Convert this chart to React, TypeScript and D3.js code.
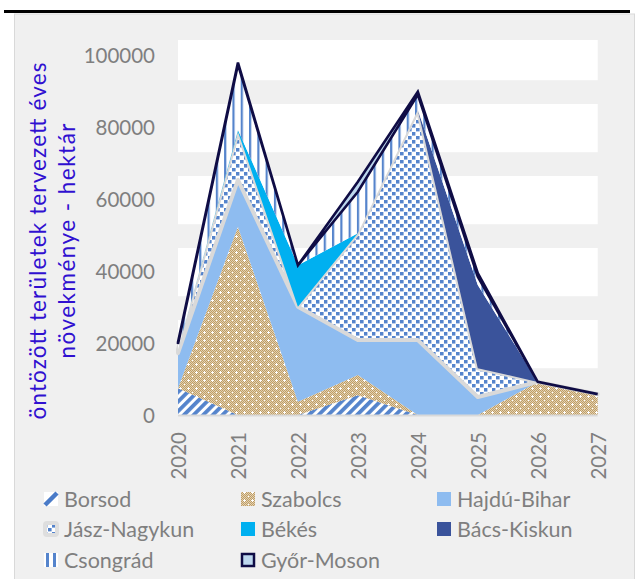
import React from 'react';
import * as d3 from 'd3';

const years = ['2020', '2021', '2022', '2023', '2024', '2025', '2026', '2027'];
const seriesNames = ['Borsod', 'Szabolcs', 'Hajdú-Bihar', 'Jász-Nagykun', 'Békés', 'Bács-Kiskun', 'Csongrád', 'Győr-Moson'];

const borsod = [7400, 0, 0, 5500, 0, 0, 0, 0];
const szabolcs = [0, 52300, 3700, 5600, 0, 0, 9200, 5800];
const hajduBihar = [9800, 13000, 26400, 9700, 20800, 5000, 0, 0];
const jaszNagykun = [1000, 13400, 0, 29700, 63900, 8000, 0, 0];
const bekes = [0, 500, 11500, 0, 0, 0, 0, 0];
const bacsKiskun = [0, 0, 0, 0, 0, 23100, 0, 0];
const csongrad = [1500, 18200, 0, 11500, 4300, 2300, 0, 0];
const gyorMoson = [500, 500, 0, 2800, 800, 1000, 0, 0];

const yTicks = [0, 20000, 40000, 60000, 80000, 100000];
const yTitleLines = ['öntözött területek tervezett éves', 'növekménye - hektár'];

const FONT = 'Lato, "Open Sans", sans-serif';
const BLUE_PAT = '#5584cc';

export default function App() {
  const x = d3.scalePoint<string>().domain(years).range([178, 597.7]);
  const y = d3.scaleLinear().domain([0, 100000]).range([415, 55]);
  const plotTop = 40;
  const plotBottom = 415;
  const topValue = y.invert(plotTop);

  const valuesList = [borsod, szabolcs, hajduBihar, jaszNagykun, bekes, bacsKiskun, csongrad, gyorMoson];
  const table = years.map((yr, i) => {
    const o: any = { year: yr };
    seriesNames.forEach((n, j) => (o[n] = valuesList[j][i]));
    return o;
  });
  const stacked = d3.stack<any>().keys(seriesNames)(table);
  const area = d3
    .area<any>()
    .x((d) => x(d.data.year) as number)
    .y0((d) => y(d[0]))
    .y1((d) => y(d[1]));

  const fills = [
    'url(#pBorsod)',
    'url(#pSzab)',
    '#8ebcf0',
    'url(#pJasz)',
    '#00b0f0',
    '#3a539b',
    'url(#pCsong)',
    '#bdd7ee',
  ];
  const strokes: (string | null)[] = [null, null, null, '#d9d9d9', null, null, null, '#0f0c45'];
  const strokeWidths = [0, 0, 0, 4, 0, 0, 0, 2.6];

  const bands: [number, number][] = [];
  for (let k = 0; k < 5; k++) {
    const lo = 13000 + 20000 * k;
    const hi = Math.min(lo + 13400, topValue);
    bands.push([lo, hi]);
  }

  const chk: [number, number][] = [];
  for (let i = 0; i < 8; i++) for (let j = 0; j < 8; j++) if ((i + j) % 2 === 0) chk.push([i, j]);

  const legendCols = [44, 241, 437];
  const legendRows = [499, 529, 560];
  const titleLengths = [357, 235];

  const marker = (idx: number, mx: number, my: number) => {
    const s = 14;
    const x0 = mx;
    const y0 = my - s / 2;
    switch (idx) {
      case 0:
        return (
          <g>
            <rect x={x0} y={y0} width={s} height={s} fill="#fff" />
            <line x1={x0 + 1} y1={y0 + s - 1} x2={x0 + s - 1} y2={y0 + 1} stroke="#4a7bc8" strokeWidth={4.5} />
          </g>
        );
      case 3:
        return <rect x={x0 + 1} y={y0 + 1} width={s - 2} height={s - 2} rx={2} fill="url(#pJasz)" stroke="#dedede" strokeWidth={4} />;
      case 6:
        return (
          <g>
            <rect x={x0} y={y0} width={s} height={s} fill="#fff" />
            <rect x={x0 + 2} y={y0} width={3} height={s} fill={BLUE_PAT} />
            <rect x={x0 + 9} y={y0} width={3} height={s} fill={BLUE_PAT} />
          </g>
        );
      case 7:
        return <rect x={x0 + 1} y={y0 + 1} width={s - 2} height={s - 2} fill="#bdd7ee" stroke="#0f0c45" strokeWidth={2.5} />;
      default:
        return <rect x={x0} y={y0} width={s} height={s} fill={fills[idx]} />;
    }
  };

  return (
    <svg width={640} height={579} style={{ position: 'absolute', left: 0, top: 0 }} fontFamily={FONT}>
      <defs>
        <pattern id="pBorsod" patternUnits="userSpaceOnUse" width={6.8} height={6.8} patternTransform="rotate(45)">
          <rect width={6.8} height={6.8} fill="#fff" />
          <rect width={3.8} height={6.8} fill={BLUE_PAT} />
        </pattern>
        <pattern id="pSzab" patternUnits="userSpaceOnUse" width={8} height={8}>
          <rect width={8} height={8} fill="#e3d2b2" />
          {chk.map(([i, j]) => (
            <rect key={`${i}-${j}`} x={i} y={j} width={1} height={1} fill="#bf9d66" />
          ))}
          <rect x={3} y={4} width={3} height={1} fill="#fff" />
          <rect x={4} y={3} width={1} height={3} fill="#fff" />
          <rect x={0} y={0} width={1} height={1} fill="#fff" />
        </pattern>
        <pattern id="pJasz" patternUnits="userSpaceOnUse" width={8} height={8}>
          <rect width={8} height={8} fill="#fff" />
          <rect x={0} y={0} width={3.6} height={3.4} fill={BLUE_PAT} />
          <rect x={4} y={4} width={3.4} height={3.6} fill={BLUE_PAT} />
        </pattern>
        <pattern id="pCsong" patternUnits="userSpaceOnUse" width={8.3} height={8}>
          <rect width={8.3} height={8} fill="#fff" />
          <rect x={0} y={0} width={2.2} height={8} fill={BLUE_PAT} />
        </pattern>
        <clipPath id="plotClip">
          <rect x={170} y={plotTop - 10} width={440} height={plotBottom - plotTop + 12} />
        </clipPath>
      </defs>

      <rect x={14.5} y={14} width={620} height={575} fill="#f0f0f0" stroke="#d9d9d9" strokeWidth={1} />
      <line x1={4} x2={630} y1={11.5} y2={11.5} stroke="#000" strokeWidth={3} />

      {bands.map(([lo, hi], i) => (
        <rect key={i} x={x(years[0])} y={y(hi)} width={(x(years[years.length - 1]) as number) - (x(years[0]) as number)} height={y(lo) - y(hi)} fill="#fff" />
      ))}

      <g clipPath="url(#plotClip)">
        {stacked.map((s, i) => (
          <path
            key={s.key}
            d={area(s) || ''}
            fill={fills[i]}
            stroke={strokes[i] || 'none'}
            strokeWidth={strokeWidths[i]}
            strokeLinejoin={i === 3 ? 'round' : 'miter'}
          />
        ))}
      </g>

      <line x1={x(years[0])} x2={x(years[years.length - 1])} y1={plotBottom + 0.5} y2={plotBottom + 0.5} stroke="#d9d9d9" strokeWidth={2} />

      {yTicks.map((t) => (
        <text key={t} x={155} y={y(t)} textAnchor="end" dominantBaseline="central" fontSize={20.5} fill="#7f7f7f">
          {t}
        </text>
      ))}

      {years.map((yr) => (
        <text
          key={yr}
          transform={`translate(${x(yr)},${432}) rotate(-90)`}
          textAnchor="end"
          dominantBaseline="central"
          fontSize={20.5}
          fill="#7f7f7f"
        >
          {yr}
        </text>
      ))}

      {yTitleLines.map((line, i) => (
        <text
          key={i}
          transform={`translate(${37 + i * 29},${241}) rotate(-90)`}
          textAnchor="middle"
          dominantBaseline="central"
          fontSize={22.5}
          fill="#3010d0"
          textLength={titleLengths[i]}
          lengthAdjust="spacing"
        >
          {line}
        </text>
      ))}

      {seriesNames.map((n, i) => {
        const col = i % 3;
        const row = Math.floor(i / 3);
        const mx = legendCols[col];
        const my = legendRows[row];
        return (
          <g key={n}>
            {marker(i, mx, my)}
            <text x={mx + 20} y={my} dominantBaseline="central" fontSize={21.5} fill="#7f7f7f">
              {n}
            </text>
          </g>
        );
      })}
    </svg>
  );
}
